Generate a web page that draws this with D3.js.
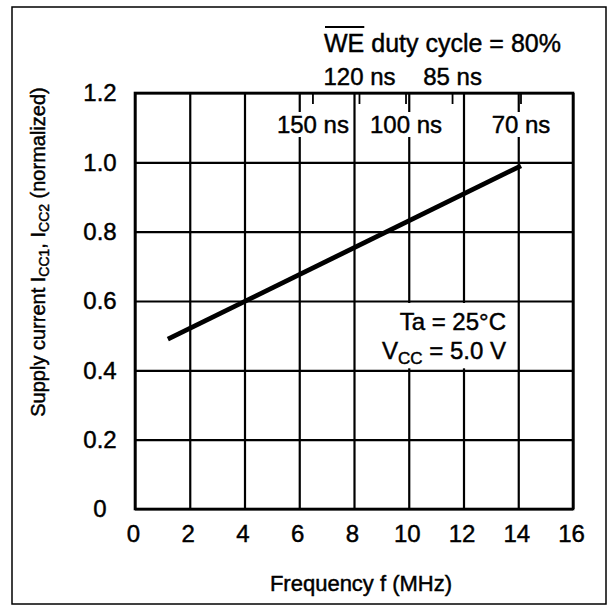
<!DOCTYPE html>
<html>
<head>
<meta charset="utf-8">
<script src="https://cdn.jsdelivr.net/npm/d3@7"></script>
<style>
  body { margin: 0; background: #fff; }
  text { font-family: "Liberation Sans", Arial, Helvetica, sans-serif; fill: #000; stroke: #000; stroke-width: 0.45px; }
</style>
</head>
<body>
<div id="chart"></div>
<script>
const width = 609, height = 608;

// values
const xTicks = [0, 2, 4, 6, 8, 10, 12, 14, 16];
const yTicks = [0, 0.2, 0.4, 0.6, 0.8, 1.0, 1.2];
const yTickLabels = ["0", "0.2", "0.4", "0.6", "0.8", "1.0", "1.2"];
const freq = [1.2, 14.1];
const current = [0.49, 0.99];
// cycle time marks along the top edge
const cycleLabels = ["150 ns", "120 ns", "100 ns", "85 ns", "70 ns"];
const cycleFreq = [6.5, 8.2, 9.9, 11.6, 14.1];
const cycleAbove = [false, true, false, true, false];

const svg = d3.select("#chart")
  .append("svg")
  .attr("width", width)
  .attr("height", height);

const x = d3.scaleLinear().domain([0, 16]).range([135, 573]);
const y = d3.scaleLinear().domain([0, 1.2]).range([509, 93]);
const plotH = y(0) - y(1.2);
const plotW = x(16) - x(0);

// outer frame of the figure
svg.append("rect")
  .attr("x", 12).attr("y", 7)
  .attr("width", 594).attr("height", 597)
  .attr("fill", "none")
  .attr("stroke", "#000")
  .attr("stroke-width", 1.5);

// x grid + labels
const gx = svg.append("g")
  .attr("transform", "translate(0," + y(0) + ")")
  .call(d3.axisBottom(x).tickValues(xTicks).tickSizeInner(-plotH).tickSizeOuter(0).tickPadding(16));
gx.select(".domain").remove();
gx.selectAll(".tick line").attr("stroke", "#000").attr("stroke-width", 2.2);
gx.selectAll(".tick text").attr("font-size", 24).attr("font-family", null).attr("dx", -2);

// y grid + labels
const gy = svg.append("g")
  .attr("transform", "translate(" + x(0) + ",0)")
  .call(d3.axisLeft(y).tickValues(yTicks).tickFormat((d, i) => yTickLabels[i])
    .tickSizeInner(-plotW).tickSizeOuter(0).tickPadding(35));
gy.select(".domain").remove();
gy.selectAll(".tick line").attr("stroke", "#000").attr("stroke-width", 2.2);
gy.selectAll(".tick text").attr("font-size", 24).attr("font-family", null)
  .attr("text-anchor", "middle");

// cycle time ticks hanging from the top edge
svg.append("g").selectAll("line")
  .data(cycleFreq)
  .enter().append("line")
  .attr("x1", d => x(d)).attr("x2", d => x(d))
  .attr("y1", y(1.2)).attr("y2", y(1.2) + 11)
  .attr("stroke", "#000").attr("stroke-width", 1.8);

// labels inside the plot sit on a white patch over the grid
const inner = svg.append("g").selectAll("g")
  .data(cycleLabels.map((t, i) => ({t: t, f: cycleFreq[i], above: cycleAbove[i]})))
  .enter().append("g");

inner.append("text")
  .attr("x", d => x(d.f))
  .attr("y", d => d.above ? 85 : 133)
  .attr("text-anchor", "middle")
  .attr("font-size", 24)
  .text(d => d.t);

inner.filter(d => !d.above).each(function () {
  const g = d3.select(this);
  const b = g.select("text").node().getBBox();
  g.insert("rect", "text")
    .attr("x", b.x - 2).attr("y", b.y + 1)
    .attr("width", b.width + 4).attr("height", b.height - 2)
    .attr("fill", "#fff");
});

// plot border
svg.append("rect")
  .attr("x", x(0)).attr("y", y(1.2))
  .attr("width", plotW).attr("height", plotH)
  .attr("fill", "none")
  .attr("stroke", "#000")
  .attr("stroke-width", 2.6);

// the data line
svg.append("path")
  .datum(d3.zip(freq, current))
  .attr("d", d3.line().x(d => x(d[0])).y(d => y(d[1])))
  .attr("fill", "none")
  .attr("stroke", "#000")
  .attr("stroke-width", 4.8);

// WE duty cycle title
const we = svg.append("text")
  .attr("x", 324).attr("y", 52)
  .attr("font-size", 25);
we.append("tspan").text("WE");
we.append("tspan").text(" duty cycle = 80%");
const weW = we.node().getSubStringLength(0, 2);
svg.append("line")
  .attr("x1", 325).attr("x2", 324 + weW)
  .attr("y1", 27).attr("y2", 27)
  .attr("stroke", "#000").attr("stroke-width", 1.8);

// conditions box
const cond = svg.append("g");
const ta = cond.append("text")
  .attr("x", 506).attr("y", 330)
  .attr("text-anchor", "end")
  .attr("font-size", 24)
  .text("Ta = 25°C");
const vcc = cond.append("text")
  .attr("x", 506).attr("y", 359)
  .attr("text-anchor", "end")
  .attr("font-size", 24);
vcc.append("tspan").text("V");
vcc.append("tspan").attr("font-size", 17).attr("dy", 5).text("CC");
vcc.append("tspan").attr("dy", -5).text(" = 5.0 V");
const bt = ta.node().getBBox(), bv = vcc.node().getBBox();
cond.insert("rect", "text")
  .attr("x", Math.min(bt.x, bv.x) - 3)
  .attr("y", y(0.6) + 2)
  .attr("width", 506 - Math.min(bt.x, bv.x) + 5)
  .attr("height", y(0.4) - y(0.6) - 4)
  .attr("fill", "#fff");

// axis titles
svg.append("text")
  .attr("x", (x(0) + x(16)) / 2 + 7).attr("y", 591)
  .attr("text-anchor", "middle")
  .attr("font-size", 22)
  .text("Frequency f (MHz)");

const yl = svg.append("text")
  .attr("transform", "translate(45,252) rotate(-90)")
  .attr("text-anchor", "middle")
  .attr("font-size", 20);
yl.append("tspan").text("Supply current I");
yl.append("tspan").attr("font-size", 14).attr("dy", 4).text("CC1");
yl.append("tspan").attr("dy", -4).text(", I");
yl.append("tspan").attr("font-size", 14).attr("dy", 4).text("CC2");
yl.append("tspan").attr("dy", -4).text(" (normalized)");
</script>
</body>
</html>
